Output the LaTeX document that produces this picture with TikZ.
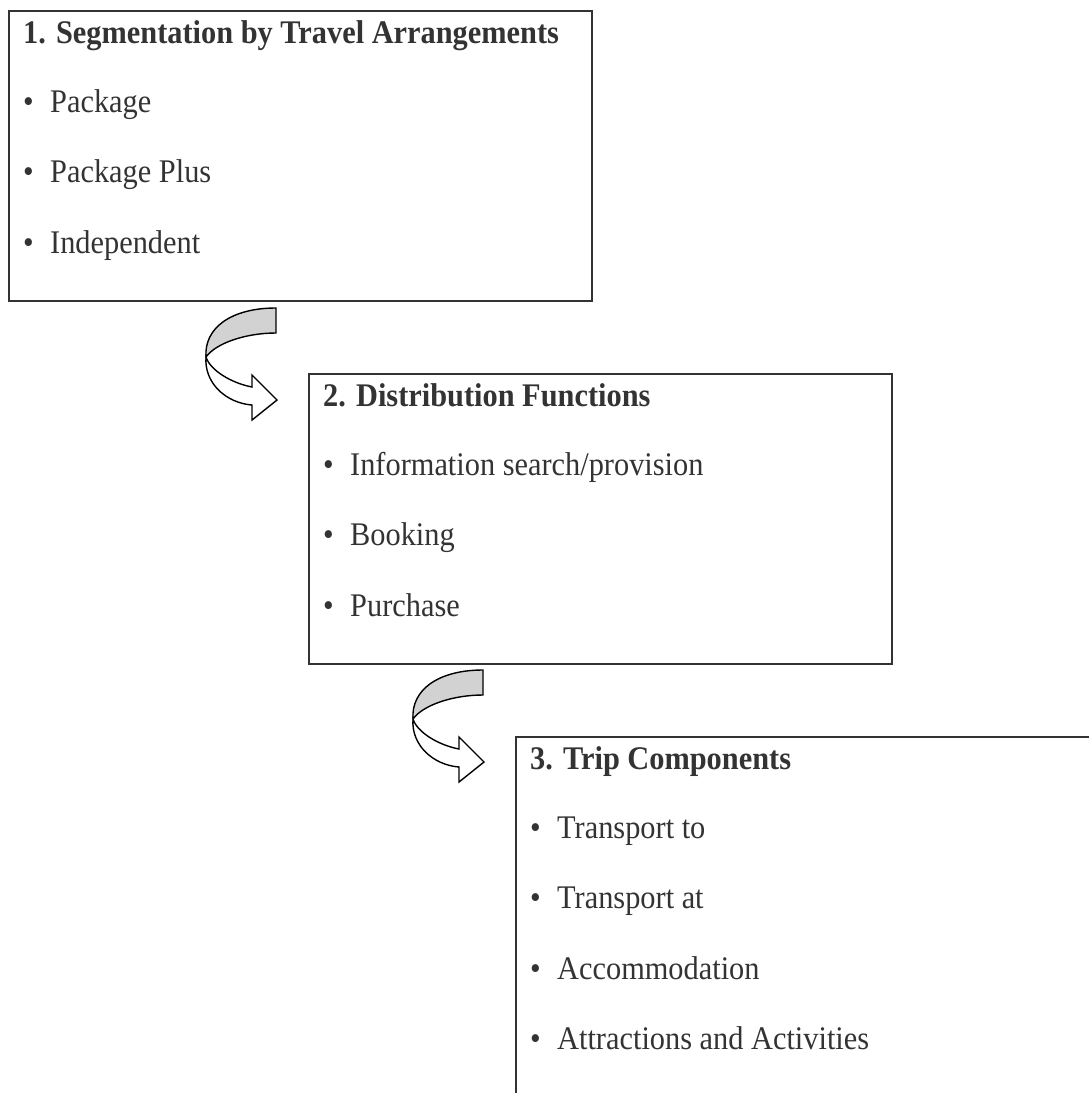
\documentclass[tikz,border=0pt]{standalone}
\usepackage{fontspec}
\setmainfont{Liberation Serif}[FakeStretch=0.92]
\usetikzlibrary{calc,positioning}

\definecolor{inkgray}{HTML}{333333}
\definecolor{ribbon}{HTML}{D2D2D2}

\tikzset{
  stage/.style={draw=inkgray, line width=2pt, anchor=north west, inner sep=0pt, minimum width=583pt, minimum height=290pt},
  heading/.style={anchor=base west, inner sep=0pt, text=inkgray, font=\fontsize{33}{40}\selectfont\bfseries},
  entry/.style={anchor=base west, inner sep=0pt, text=inkgray, font=\fontsize{33}{40}\selectfont},
  turn/.pic={
    \draw[line width=1.4pt, fill=ribbon] (0,0) -- (0,25) .. controls (-30,25) and (-60,35) .. (-70,49) .. controls (-72,20) and (-45,0) .. (0,0) -- cycle;
    \draw[line width=1.4pt, fill=white] (-70,49) .. controls (-66,62) and (-45,75) .. (-24,79) -- (-24,67) -- (1,92) -- (-24,112) -- (-24,97) .. controls (-50,95) and (-72,75) .. (-70,49) -- cycle;
  }
}

\newcommand{\dotitem}[1]{\makebox[27pt][l]{\textbullet}#1}

\begin{document}
\begin{tikzpicture}[x=1pt, y=-1pt]
\useasboundingbox (0,0) rectangle (1089,1093);
\clip (0,0) rectangle (1089,1093);

% boxes
\node[stage] (seg) at (8,10) {};
\node[stage] (dist) at (308,373) {};
\node[stage, minimum height=370pt] (trip) at (515,736) {};

% box 1
\node[heading] (segtitle) at (23,43) {1. Segmentation by Travel Arrangements};
\node[entry] (pkg) at (23,112) {\dotitem{Package}};
\node[entry] (pkgplus) at (23,182.5) {\dotitem{Package Plus}};
\node[entry] (indep) at (23,253) {\dotitem{Independent}};

% box 2
\node[heading] (disttitle) at (323,406) {2. Distribution Functions};
\node[entry] (info) at (323,475) {\dotitem{Information search/provision}};
\node[entry] (book) at (323,545.5) {\dotitem{Booking}};
\node[entry] (purch) at (323,616) {\dotitem{Purchase}};

% box 3
\node[heading] (triptitle) at (530,769) {3. Trip Components};
\node[entry] (transto) at (530,838) {\dotitem{Transport to}};
\node[entry] (transat) at (530,908.5) {\dotitem{Transport at}};
\node[entry] (accom) at (530,979) {\dotitem{Accommodation}};
\node[entry] (attr) at (530,1049.5) {\dotitem{Attractions and Activities}};

% curved arrows between the boxes
\pic at ($(dist.north west)+(-32,-65)$) {turn};
\pic at ($(trip.north west)+(-32,-66)$) {turn};
\end{tikzpicture}
\end{document}
